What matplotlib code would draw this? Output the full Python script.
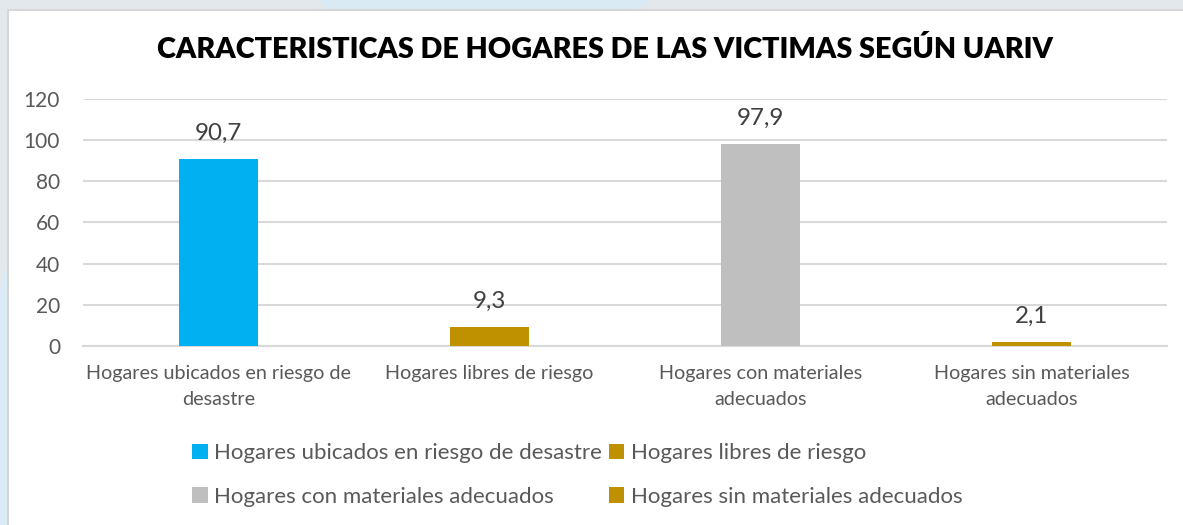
import matplotlib.pyplot as plt
from matplotlib.patches import Rectangle, Polygon

categorias = ["Hogares ubicados en riesgo de\ndesastre",
              "Hogares libres de riesgo",
              "Hogares con materiales\nadecuados",
              "Hogares sin materiales\nadecuados"]
series = ["Hogares ubicados en riesgo de desastre",
          "Hogares libres de riesgo",
          "Hogares con materiales adecuados",
          "Hogares sin materiales adecuados"]
valores = [90.7, 9.3, 97.9, 2.1]
colores = ["#00B0F0", "#BF9000", "#BFBFBF", "#BF9000"]
yticks = [0, 20, 40, 60, 80, 100, 120]

plt.rcParams["font.family"] = ["Lato", "DejaVu Sans"]
gris_texto = "#595959"

fig = plt.figure(figsize=(11.83, 5.25), dpi=100)
fig.patch.set_facecolor("#e3e8ec")

# fondo decorativo y panel blanco
fig.patches.append(Polygon([[0.27, 1.0], [0.55, 1.0], [0.53, 0.97], [0.28, 0.97]],
                           closed=True, transform=fig.transFigure,
                           facecolor="#d9eaf4", edgecolor="none", zorder=0))
fig.patches.append(Polygon([[0.0, 0.0], [0.007, 0.0], [0.007, 0.5], [0.0, 0.45]],
                           closed=True, transform=fig.transFigure,
                           facecolor="#dcecf6", edgecolor="none", zorder=0))
fig.patches.append(Rectangle((0.0068, -0.01), 1.0, 0.991, transform=fig.transFigure,
                             facecolor="white", edgecolor="#d6d6d6", linewidth=1.5,
                             zorder=0.5))

ax = fig.add_axes([0.0702, 0.341, 0.9163, 0.4704])
ax.set_facecolor("none")
ax.set_zorder(2)

x = range(len(valores))
barras = []
for i, (v, c, s) in enumerate(zip(valores, colores, series)):
    b = ax.bar(i, v, width=0.29, color=c, label=s, zorder=3)
    barras.append(b)
    ax.annotate(f"{v:.1f}".replace(".", ","), (i, v), xytext=(0, 11),
                textcoords="offset points", ha="center", va="bottom",
                fontsize=17.4, color="#404040")

ax.set_xlim(-0.5, 3.5)
ax.set_ylim(0, 120)
ax.set_yticks(yticks)
ax.set_xticks(list(x))
ax.set_xticklabels(categorias, fontsize=14.2, color=gris_texto, linespacing=1.6)
ax.tick_params(axis="y", labelsize=15, labelcolor=gris_texto, length=0, pad=16.5)
ax.tick_params(axis="x", length=0, pad=14)
ax.grid(axis="y", color="#d9d9d9", linewidth=1.5, zorder=0)
for lado in ["top", "right", "left"]:
    ax.spines[lado].set_visible(False)
ax.spines["bottom"].set_color("#d9d9d9")
ax.spines["bottom"].set_linewidth(1.5)

fig.text(0.511, 0.905, "CARACTERISTICAS DE HOGARES DE LAS VICTIMAS SEGÚN UARIV",
         ha="center", va="center", fontsize=20.7, fontweight="heavy", color="black",
         zorder=3)

orden = [barras[0], barras[2], barras[1], barras[3]]
etiquetas = [series[0], series[2], series[1], series[3]]
leg = fig.legend(orden, etiquetas, ncol=2, loc="center", bbox_to_anchor=(0.488, 0.095),
                 frameon=False, fontsize=16, labelcolor=gris_texto,
                 handlelength=0.7, handleheight=0.7, handletextpad=0.3,
                 columnspacing=0.3, labelspacing=1.05)
leg.set_zorder(3)

fig.savefig("out.png", dpi=100, facecolor=fig.get_facecolor())
